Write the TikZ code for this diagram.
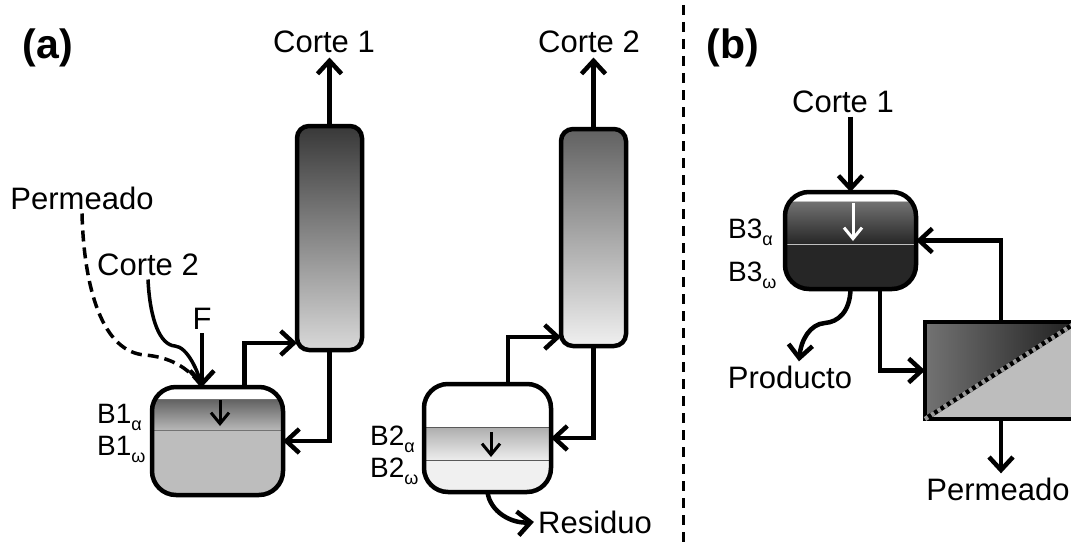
\documentclass[tikz,border=0pt]{standalone}
\usepackage{fontspec}
\setmainfont{Liberation Sans}
\usetikzlibrary{arrows.meta}
\newcommand{\lowtxt}[1]{\raisebox{-7pt}{\fontsize{18}{18}\selectfont #1}}
\newcommand{\bands}[6]{
\begin{scope}[sharp corners]
\fill[#5] (path picture bounding box.south west) rectangle ([yshift=-#2pt]path picture bounding box.north east);
\shade[top color=#3,bottom color=#4] ([yshift=-#1pt]path picture bounding box.north west) rectangle ([yshift=-#2pt]path picture bounding box.north east);
\draw[#6,line width=1pt] ([yshift=-#1pt]path picture bounding box.north west) -- ([yshift=-#1pt]path picture bounding box.north east);
\draw[#6,line width=1pt] ([yshift=-#2pt]path picture bounding box.north west) -- ([yshift=-#2pt]path picture bounding box.north east);
\end{scope}
}
\tikzset{
flow/.style={line width=4.5pt,-{Straight Barb[length=13pt,width=24pt,line width=4.5pt]}},
feedline/.style={line width=3.5pt},
innerflow/.style={line width=3pt,-{Straight Barb[length=11pt,width=18pt,line width=3pt]}},
vessel/.style={draw=black,line width=4.5pt,rounded corners=24pt,fill=white,outer sep=0pt,minimum width=131pt,minimum height=108pt},
column/.style={draw=black,line width=4.5pt,rounded corners=12pt,outer sep=0pt,minimum width=65pt},
lbl/.style={anchor=base,inner sep=4pt,font=\fontsize{31}{36}\selectfont},
sublbl/.style={anchor=base west,inner sep=0pt,font=\fontsize{28}{30}\selectfont},
}
\begin{document}
\begin{tikzpicture}[x=1pt,y=-1pt]
\useasboundingbox (0,0) rectangle (1071,543);

\node[lbl,font=\fontsize{41}{46}\selectfont\bfseries] (parta) at (48,59) {(a)};
\node[lbl,font=\fontsize{41}{46}\selectfont\bfseries] (partb) at (733,59) {(b)};
\coordinate (divtop) at (683,5);
\coordinate (divbot) at (683,543);
\draw[line width=3pt,dash pattern=on 10pt off 7pt] (divtop) -- (divbot);

\node[column,top color=black!78,bottom color=black!15,minimum height=224pt] (col1) at (329.5,238) {};
\node[column,top color=black!62,bottom color=black!6,minimum height=217pt] (col2) at (593.5,237.5) {};

\node[vessel,path picture={\bands{12}{43}{black!62}{black!28}{black!26}{black!55}}] (b1) at (217.5,441) {};
\node[vessel,minimum width=127pt,path picture={\bands{43}{76}{black!32}{black!7}{black!6}{black!65}}] (b2) at (487.5,438) {};
\node[vessel,minimum height=97pt,path picture={\bands{9}{52}{black!55}{black!85}{black!85}{black!25}}] (b3) at (850.5,240.5) {};

\node[draw=black,line width=4.5pt,outer sep=0pt,minimum width=152pt,minimum height=97pt,fill=black!26,path picture={
\shade[left color=black!55,right color=black!88] (path picture bounding box.south west) -- (path picture bounding box.north west) -- (path picture bounding box.north east) -- cycle;
}] (mem) at (1001,370.5) {};
\draw[line width=4.5pt] (mem.south west) -- (mem.north east);
\draw[line width=4.5pt,black!40,dash pattern=on 3.5pt off 4pt] (mem.south west) -- (mem.north east);

\node[lbl] (corte1a) at (324,53) {Corte 1};
\node[lbl] (corte2a) at (589,53) {Corte 2};
\node[lbl] (corte1b) at (843,112) {Corte 1};
\node[lbl] (permi) at (82,209) {Permeado};
\node[lbl] (corte2i) at (148,275) {Corte 2};
\node[lbl] (feed) at (202,329) {F};
\node[lbl] (prod) at (790,388) {Producto};
\node[lbl] (permb) at (998,500) {Permeado};
\node[lbl] (resid) at (595,533) {Residuo};

\node[sublbl] (b1a) at (97,423) {B1\lowtxt{α}};
\node[sublbl] (b1w) at (97,455) {B1\lowtxt{ω}};
\node[sublbl] (b2a) at (370,445) {B2\lowtxt{α}};
\node[sublbl] (b2w) at (370,477) {B2\lowtxt{ω}};
\node[sublbl] (b3a) at (728,238) {B3\lowtxt{α}};
\node[sublbl] (b3w) at (728,281) {B3\lowtxt{ω}};

\coordinate (b1in) at (feed.south |- b1.north);

\draw[flow] (col1.north) -- (col1.north |- corte1a.south);
\draw[flow] (col2.north) -- (col2.north |- corte2a.south);
\draw[flow] ([xshift=27pt]b1.north) |- ([yshift=7pt]col1.south west);
\draw[flow] (col1.south) |- (b1.east);
\draw[flow] ([xshift=20.5pt]b2.north) |- ([yshift=9pt]col2.south west);
\draw[flow] (col2.south) |- (b2.east);
\draw[feedline,dash pattern=on 11pt off 6pt] (permi.south) .. controls (84,290) and (103,352) .. (145,355) .. controls (168,357) and (188,366) .. (b1in);
\draw[feedline] (corte2i.south) .. controls (150,320) and (160,345) .. (175,346) .. controls (187,347) and (198,370) .. (b1in);
\draw[flow] (feed.south) -- (b1in);
\draw[flow] (b2.south) .. controls (490,512) and (512,524) .. (resid.west);

\draw[flow] (corte1b.south -| b3.north) -- (b3.north);
\draw[flow] (b3.south) .. controls (850,312) and (838,322) .. (825,323) .. controls (810,324) and (801,340) .. ([xshift=9pt]prod.north);
\draw[flow] ([xshift=29.5pt]b3.south) |- (mem.west);
\draw[flow] (mem.north) |- (b3.east);
\draw[flow] (mem.south) -- (mem.south |- permb.north);

\coordinate (b1dn) at (220,400);
\coordinate (b1dne) at (220,426);
\coordinate (b2dn) at (491,432);
\coordinate (b2dne) at (491,457);
\coordinate (b3dn) at (853,203);
\coordinate (b3dne) at (853,241);
\draw[innerflow] (b1dn) -- (b1dne);
\draw[innerflow] (b2dn) -- (b2dne);
\draw[innerflow,white] (b3dn) -- (b3dne);
\end{tikzpicture}
\end{document}
